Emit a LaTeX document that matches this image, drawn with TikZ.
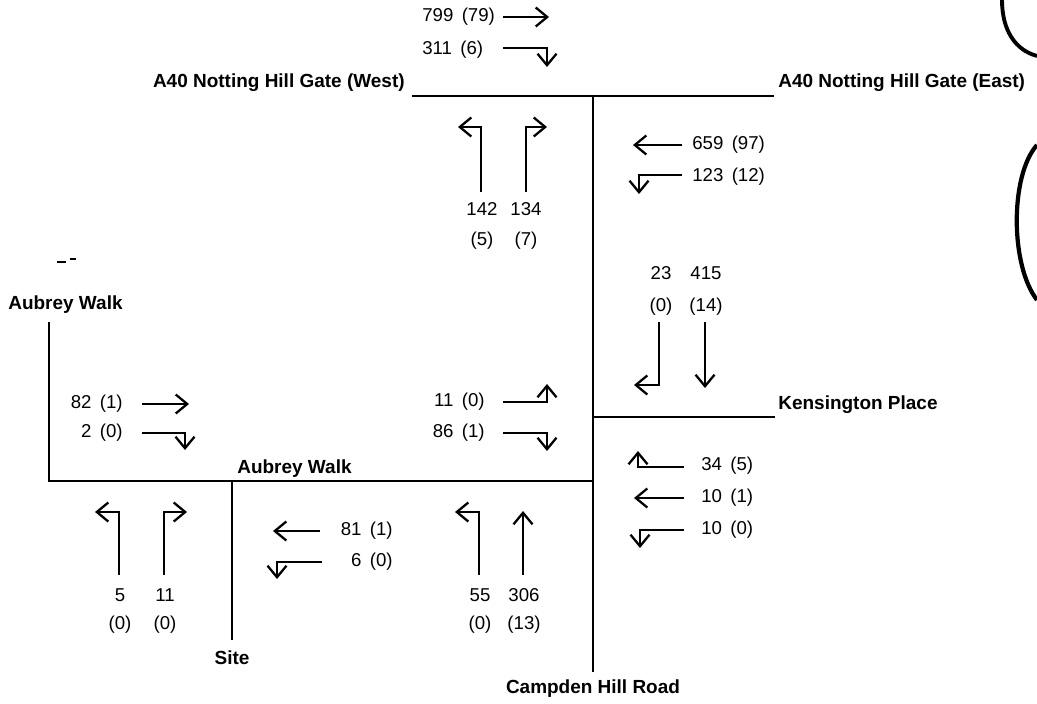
\documentclass[tikz,border=0pt]{standalone}
\usepackage{fontspec}
\setmainfont{Liberation Sans}
\usepackage{tikz}
\usetikzlibrary{arrows.meta}
\newcommand{\vol}[2]{#1\hspace{0.45em}(#2)}

\begin{document}
\begin{tikzpicture}[
    x=0.02cm, y=-0.02cm,
    road/.style={line width=1.6pt},
    mv/.style={line width=1.3pt, -{Straight Barb[length=2.3mm, width=3.8mm]}},
    lbl/.style={font=\bfseries\fontsize{10.8}{12}\selectfont, inner sep=0pt},
    cnt/.style={font=\fontsize{10.6}{12}\selectfont, inner sep=0pt}
]
\useasboundingbox (0,0) rectangle (1037,703);

% Road layout
\coordinate (tw) at (412,96);
\coordinate (te) at (774,96);
\coordinate (tj) at (593,96);
\coordinate (kj) at (593,417);
\coordinate (ke) at (775,417);
\coordinate (aj) at (593,481);
\coordinate (cb) at (593,672);
\coordinate (aw) at (49,481);
\coordinate (awt) at (49,322);
\coordinate (sj) at (232,481);
\coordinate (sb) at (232,640);

\draw[road] (tw) -- (te);
\draw[road] (tj) -- (cb);
\draw[road] (kj) -- (ke);
\draw[road] (awt) -- (aw) -- (aj);
\draw[road] (sj) -- (sb);

% Road names
\node[lbl, anchor=east] (gw) at (405,83) {A40 Notting Hill Gate (West)};
\node[lbl, anchor=west] (ge) at (778,83) {A40 Notting Hill Gate (East)};
\node[lbl, anchor=west] (kp) at (778,405) {Kensington Place};
\node[lbl, anchor=west] (aw1) at (8,305) {Aubrey Walk};
\node[lbl, anchor=west] (aw2) at (237,469) {Aubrey Walk};
\node[lbl] (site) at (232,658) {Site};
\node[lbl] (chr) at (593,689) {Campden Hill Road};

% Notting Hill Gate westbound
\node[cnt, anchor=west] (v799) at (422,17) {\vol{799}{79}};
\node[cnt, anchor=west] (v311) at (422,50) {\vol{311}{6}};
\draw[mv] (503,17) -- (549,17);
\draw[mv] (503,48) -- (547,48) -- (547,67);

% Campden Hill Road northbound to the gate
\node[cnt] (v142) at (482,209) {142};
\node[cnt] (v134) at (526,209) {134};
\node[cnt] (h142) at (482,241) {(5)};
\node[cnt] (h134) at (526,241) {(7)};
\draw[mv] (481,192) -- (481,127) -- (458,127);
\draw[mv] (526,192) -- (526,127) -- (547,127);

% Notting Hill Gate eastbound
\node[cnt, anchor=west] (v659) at (692,145) {\vol{659}{97}};
\node[cnt, anchor=west] (v123) at (692,177) {\vol{123}{12}};
\draw[mv] (682,145) -- (633,145);
\draw[mv] (682,175) -- (639,175) -- (639,194);

% Campden Hill Road southbound
\node[cnt] (v23) at (661,273) {23};
\node[cnt] (v415) at (706,273) {415};
\node[cnt] (h23) at (661,307) {(0)};
\node[cnt] (h415) at (706,307) {(14)};
\draw[mv] (659,322) -- (659,385) -- (634,385);
\draw[mv] (705,322) -- (705,388);

% Aubrey Walk eastbound at Campden Hill Road
\node[cnt, anchor=east] (v11) at (485,402) {\vol{11}{0}};
\node[cnt, anchor=east] (v86) at (485,433) {\vol{86}{1}};
\draw[mv] (503,402) -- (547,402) -- (547,384);
\draw[mv] (503,433) -- (547,433) -- (547,451);

% Aubrey Walk eastbound at site
\node[cnt, anchor=east] (v82) at (123,404) {\vol{82}{1}};
\node[cnt, anchor=east] (v2) at (123,433) {\vol{2}{0}};
\draw[mv] (142,404) -- (189,404);
\draw[mv] (142,433) -- (185,433) -- (185,450);

% Aubrey Walk (west arm) northbound
\node[cnt] (v5) at (120,595) {5};
\node[cnt] (v11w) at (165,595) {11};
\node[cnt] (h5) at (120,625) {(0)};
\node[cnt] (h11w) at (165,625) {(0)};
\draw[mv] (119,575) -- (119,512) -- (95,512);
\draw[mv] (164,575) -- (164,512) -- (187,512);

% Aubrey Walk westbound
\node[cnt, anchor=east] (v81) at (393,531) {\vol{81}{1}};
\node[cnt, anchor=east] (v6) at (393,562) {\vol{6}{0}};
\draw[mv] (320,531) -- (273,531);
\draw[mv] (322,562) -- (277,562) -- (277,579);

% Campden Hill Road northbound
\node[cnt] (v55) at (480,595) {55};
\node[cnt] (v306) at (524,595) {306};
\node[cnt] (h55) at (480,625) {(0)};
\node[cnt] (h306) at (524,625) {(13)};
\draw[mv] (479,575) -- (479,512) -- (455,512);
\draw[mv] (523,575) -- (523,511);

% Kensington Place westbound
\node[cnt, anchor=west] (v34) at (701,466) {\vol{34}{5}};
\node[cnt, anchor=west] (v10a) at (701,498) {\vol{10}{1}};
\node[cnt, anchor=west] (v10b) at (701,530) {\vol{10}{0}};
\draw[mv] (684,467) -- (638,467) -- (638,451);
\draw[mv] (684,498) -- (634,498);
\draw[mv] (684,530) -- (640,530) -- (640,548);

% edge marks
\draw[line width=2.2pt] (1002,0) .. controls (1002,30) and (1015,50) .. (1037,56);
\draw[line width=2.4pt] (1037,145) .. controls (1010,175) and (1010,265) .. (1037,300);
\draw[line width=0.6pt] (57,262) -- (66,262);
\draw[line width=0.8pt] (70,259) -- (76,259);

\end{tikzpicture}
\end{document}
